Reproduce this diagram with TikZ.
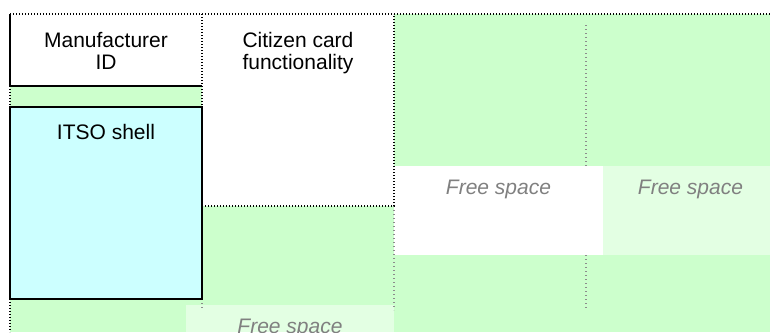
\documentclass[tikz,border=0pt]{standalone}
\usepackage{fontspec}
\setmainfont{Liberation Sans}
\usetikzlibrary{positioning}
\definecolor{freegreen}{HTML}{CCFFCC}
\definecolor{palegreen}{HTML}{E3FFE3}
\definecolor{shellcyan}{HTML}{CCFFFF}
\definecolor{freegrey}{HTML}{808080}

\begin{document}
\begin{tikzpicture}[x=0.5pt, y=-0.5pt, font=\fontsize{10.5}{10.8}\selectfont,
      area/.style={anchor=north west, inner sep=0pt, outer sep=0pt},
      lbl/.style={anchor=north, inner sep=0pt, align=center},
      freelbl/.style={lbl, text=freegrey, font=\fontsize{10.5}{10.8}\selectfont\itshape},
      blackdots/.style={draw=black, line width=0.8pt, dash pattern=on 0.7pt off 0.8pt},
      greydots/.style={draw=gray!90, line width=0.6pt, dash pattern=on 0.6pt off 1.4pt}]

    \useasboundingbox (0,0) rectangle (770,332);
    \fill[freegreen] (10,14) rectangle (770,332);

    % memory areas
    \node[area, fill=white, minimum width=96pt, minimum height=36pt]   (mfr)      at (10,14)  {};
    \node[area, fill=shellcyan, minimum width=96pt, minimum height=96pt] (itso)   at (10,107) {};
    \node[area, fill=white, minimum width=96pt, minimum height=96pt]   (citizen)  at (202,14) {};
    \node[area, fill=white, minimum width=104.5pt, minimum height=44.5pt] (free1)  at (394,166) {};
    \node[area, fill=palegreen, minimum width=83.5pt, minimum height=44.5pt] (free2) at (603,166) {};
    \node[area, fill=palegreen, minimum width=104pt, minimum height=13.5pt] (free3) at (186,305) {};

    % grey cell lines
    \draw[greydots] (586,25) -- (586,166);
    \draw[greydots] (586,255) -- (586,310);
    \draw[greydots] (citizen.south east) -- (394,310);
    \draw[greydots] (itso.south east) -- (202,310);

    % borders
    \draw[black, line width=0.75pt] (mfr.north west) -- (mfr.south west) -- (mfr.south east);
    \draw[black, line width=1.35pt] (itso.north west) rectangle (itso.south east);
    \draw[blackdots] (10,14) -- (770,14);
    \draw[blackdots] (citizen.north west) -- (citizen.south west) -- (citizen.south east) -- (citizen.north east);
    \draw[blackdots] (mfr.south west) -- (itso.north west);
    \draw[blackdots] (itso.south west) -- (10,332);

    % labels
    \node[lbl] (mfrtext)     at (106,32)    {Manufacturer\\ID};
    \node[lbl] (citizentext) at (298,32)    {Citizen card\\functionality};
    \node[lbl] (itsotext)    at (106,124)   {ITSO shell};
    \node[freelbl] (free1text) at (498.5,180) {Free space};
    \node[freelbl] (free2text) at (690.5,180) {Free space};
    \node[freelbl] (free3text) at (290,319)   {Free space};
  \end{tikzpicture}
\end{document}
